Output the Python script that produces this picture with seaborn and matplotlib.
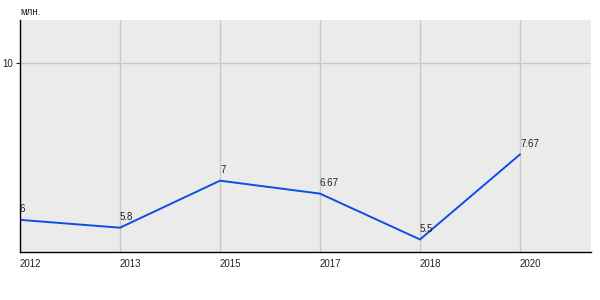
import matplotlib
matplotlib.use("Agg")
import matplotlib.pyplot as plt
import seaborn as sns
import pandas as pd

years = ["2012", "2013", "2015", "2017", "2018", "2020"]
values = [6, 5.8, 7, 6.67, 5.5, 7.67]
labels = ["6", "5.8", "7", "6.67", "5.5", "7.67"]
y_ticks = [10]
unit_label = "млн."

sns.set_theme(style="white")
plt.rcParams['font.family'] = ['Liberation Sans', 'DejaVu Sans']

df = pd.DataFrame({"year": years, "value": values})

fig = plt.figure(figsize=(6, 3), dpi=100)
ax = fig.add_axes([20/600, 48/300, 571/600, 232/300])
ax.set_facecolor("#ebebeb")

sns.lineplot(data=df, x="year", y="value", ax=ax, color="#0a4fe6",
             linewidth=1.4, sort=False)

for i, (v, lab) in enumerate(zip(values, labels)):
    ax.annotate(lab, (i, v), xytext=(0, 4), textcoords="offset points",
                ha="left", va="bottom", fontsize=7, color="#222222")

ax.set_xlim(0, 5.71)
ax.set_ylim(5.18, 11.1)
ax.set_yticks(y_ticks)
ax.set_yticklabels([str(t) for t in y_ticks])
ax.set_xticks(range(len(years)))
ax.set_xticklabels(years)
for t in ax.get_xticklabels():
    t.set_ha("left")
ax.grid(True, color="#c8c8c8", linewidth=1)
ax.set_axisbelow(True)
ax.tick_params(axis="x", length=0, pad=5, labelsize=7, colors="#222222")
ax.tick_params(axis="y", length=3, width=0.8, pad=2, labelsize=7, colors="#222222", left=True)
ax.set_xlabel("")
ax.set_ylabel("")
for s in ["top", "right"]:
    ax.spines[s].set_visible(False)
for s in ["left", "bottom"]:
    ax.spines[s].set_visible(True)
    ax.spines[s].set_color("black")
    ax.spines[s].set_linewidth(1)

fig.text(20/600, 1 - 12/300, unit_label, fontsize=7, color="#222222",
         ha="left", va="center")

fig.savefig("out.png", dpi=100, facecolor="white")
